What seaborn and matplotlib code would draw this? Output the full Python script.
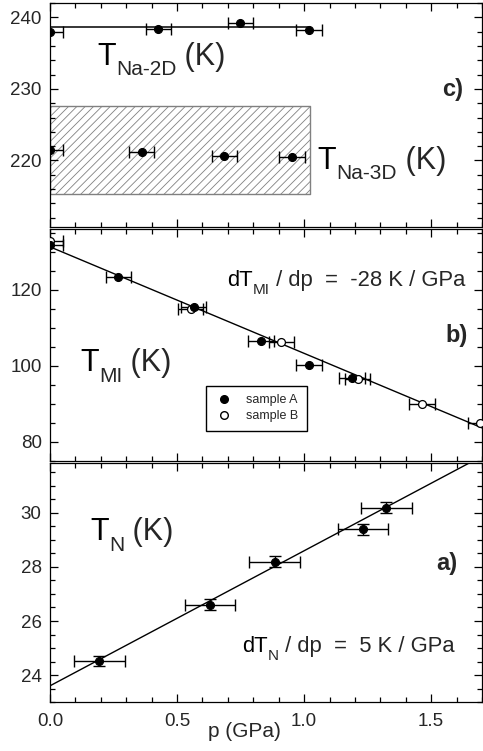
import matplotlib
matplotlib.use("Agg")
import matplotlib.pyplot as plt
import matplotlib.ticker as mticker
from matplotlib.lines import Line2D
import numpy as np
import seaborn as sns

# panel c) Na ordering temperatures
p_2d = [0.0, 0.427, 0.749, 1.02]
t_2d = [237.97, 238.4, 239.2, 238.2]
p_3d = [0.0, 0.361, 0.686, 0.952]
t_3d = [221.5, 221.25, 220.6, 220.5]
p_err_c = 0.05
t2d_level = 238.7
t2d_span = [0.0, 1.02]
t3d_band = [215.25, 227.6]
t3d_span = [0.0, 1.025]

# panel b) metal-insulator transition, two samples
p_a = [0.0, 0.269, 0.565, 0.830, 1.019, 1.189]
tmi_a = [131.8, 123.4, 115.4, 106.5, 100.3, 96.7]
p_b = [0.0, 0.554, 0.910, 1.211, 1.464, 1.694]
tmi_b = [132.9, 115.0, 106.3, 96.6, 90.0, 85.0]
p_err_b = 0.05
tmi_fit = [131.3, -28.0]   # intercept, slope

# panel a) Neel temperature
p_n = [0.194, 0.630, 0.884, 1.232, 1.324]
tn = [24.52, 26.6, 28.2, 29.4, 30.2]
p_err_a = 0.1
tn_err = 0.2
tn_fit = [23.6, 5.0]

p_range = [0.0, 1.7]

sns.set_style("ticks")
plt.rcParams['font.family'] = ['Liberation Sans', 'DejaVu Sans']
plt.rcParams['axes.edgecolor'] = 'black'
plt.rcParams['hatch.linewidth'] = 0.6
plt.rcParams['hatch.color'] = '#808080'


def sub_text(ax, x, y, main, sub, rest, size, sub_size, drop):
    t1 = ax.text(x, y, main, fontsize=size, color='black')
    t2 = ax.annotate(sub, xy=(1, 0), xycoords=t1, xytext=(0.3, -drop),
                     textcoords='offset points', fontsize=sub_size,
                     va='bottom', ha='left')
    ax.annotate(rest, xy=(1, 0), xycoords=(t2, t1), xytext=(0, 0),
                textcoords='offset points', fontsize=size,
                va='bottom', ha='left')


def style_axis(ax, ylim, ymaj, ymin, ticks_labels=False):
    ax.set_xlim(p_range)
    ax.set_ylim(ylim)
    ax.xaxis.set_major_locator(mticker.MultipleLocator(0.5))
    ax.xaxis.set_minor_locator(mticker.MultipleLocator(0.1))
    ax.xaxis.set_major_formatter(mticker.FormatStrFormatter('%.1f'))
    ax.yaxis.set_major_locator(mticker.MultipleLocator(ymaj))
    ax.yaxis.set_minor_locator(mticker.MultipleLocator(ymin))
    ax.tick_params(which='both', direction='in', top=True, right=True,
                   width=0.9, color='black', labelsize=13.5)
    ax.tick_params(which='major', length=6)
    ax.tick_params(which='minor', length=3.5)
    ax.tick_params(axis='y', pad=6)
    ax.tick_params(axis='x', pad=8, labelbottom=ticks_labels)
    for s in ax.spines.values():
        s.set_linewidth(0.9)
        s.set_color('black')
    ax.set_xlabel('')
    ax.set_ylabel('')


def points(ax, x, y, xerr, yerr=None, open_marker=False):
    ax.errorbar(x, y, xerr=xerr, yerr=yerr, fmt='none', ecolor='black',
                elinewidth=1, capsize=4.5, capthick=1, zorder=2)
    sns.scatterplot(x=x, y=y, ax=ax, s=32, zorder=3, legend=False,
                    color='white' if open_marker else 'black',
                    edgecolor='black', linewidth=0.9)


fig = plt.figure(figsize=(4.83, 7.51), dpi=100)
left, width = 0.1035, 0.8944
ax_c = fig.add_axes([left, 0.6977, width, 0.2983])
ax_b = fig.add_axes([left, 0.3862, width, 0.3089])
ax_a = fig.add_axes([left, 0.0652, width, 0.3183])

# ---- c)
ax_c.fill_between(t3d_span, t3d_band[0], t3d_band[1], facecolor='white',
                  edgecolor='#808080', hatch='////', linewidth=1, zorder=0)
sns.lineplot(x=t2d_span, y=[t2d_level, t2d_level], ax=ax_c, color='black', lw=1.1)
points(ax_c, p_2d, t_2d, p_err_c)
points(ax_c, p_3d, t_3d, p_err_c)
sub_text(ax_c, 0.185, 233.4, 'T', 'Na-2D', ' (K)', 22, 15, 5.5)
sub_text(ax_c, 1.052, 218.85, 'T', 'Na-3D', ' (K)', 22, 15, 5.5)
ax_c.text(1.627, 229.0, 'c)', fontsize=17, fontweight='bold', ha='right')
style_axis(ax_c, (210.7, 242.0), 10, 2)

# ---- b)
p_line = np.array(p_range)
sns.lineplot(x=p_line, y=tmi_fit[0] + tmi_fit[1] * p_line, ax=ax_b, color='black', lw=1)
points(ax_b, p_b, tmi_b, p_err_b, open_marker=True)
points(ax_b, p_a, tmi_a, p_err_b)
sub_text(ax_b, 0.118, 98.6, 'T', 'MI', ' (K)', 22, 15, 5.5)
sub_text(ax_b, 0.697, 121.0, 'dT', 'MI', ' / dp  =  -28 K / GPa', 15.8, 11, 4.5)
ax_b.text(1.642, 106.3, 'b)', fontsize=17, fontweight='bold', ha='right')
handles = [Line2D([], [], marker='o', ls='none', color='black', ms=5.5),
           Line2D([], [], marker='o', ls='none', markerfacecolor='white',
                  markeredgecolor='black', ms=5.5)]
leg = ax_b.legend(handles, ['sample A', 'sample B'], loc='upper left',
                  bbox_to_anchor=(0.361, 0.325), borderaxespad=0, fontsize=9,
                  frameon=True, fancybox=False, framealpha=1, edgecolor='black',
                  handlelength=1.5, handletextpad=1.0, borderpad=0.7,
                  labelspacing=0.3)
leg.get_frame().set_linewidth(1)
style_axis(ax_b, (75.0, 136.0), 20, 5)

# ---- a)
sns.lineplot(x=p_line, y=tn_fit[0] + tn_fit[1] * p_line, ax=ax_a, color='black', lw=1)
points(ax_a, p_n, tn, p_err_a, yerr=tn_err)
sub_text(ax_a, 0.158, 28.99, 'T', 'N', ' (K)', 22, 15, 5.5)
sub_text(ax_a, 0.755, 24.85, 'dT', 'N', ' / dp  =  5 K / GPa', 15.8, 11, 4.5)
ax_a.text(1.602, 27.88, 'a)', fontsize=17, fontweight='bold', ha='right')
style_axis(ax_a, (23.0, 31.85), 2, 0.5, ticks_labels=True)
ax_a.set_xlabel('p (GPa)', fontsize=15)
ax_a.xaxis.set_label_coords(0.45, -0.083)
ax_a.xaxis.label.set_va('top')

fig.savefig('out.png', dpi=100)
